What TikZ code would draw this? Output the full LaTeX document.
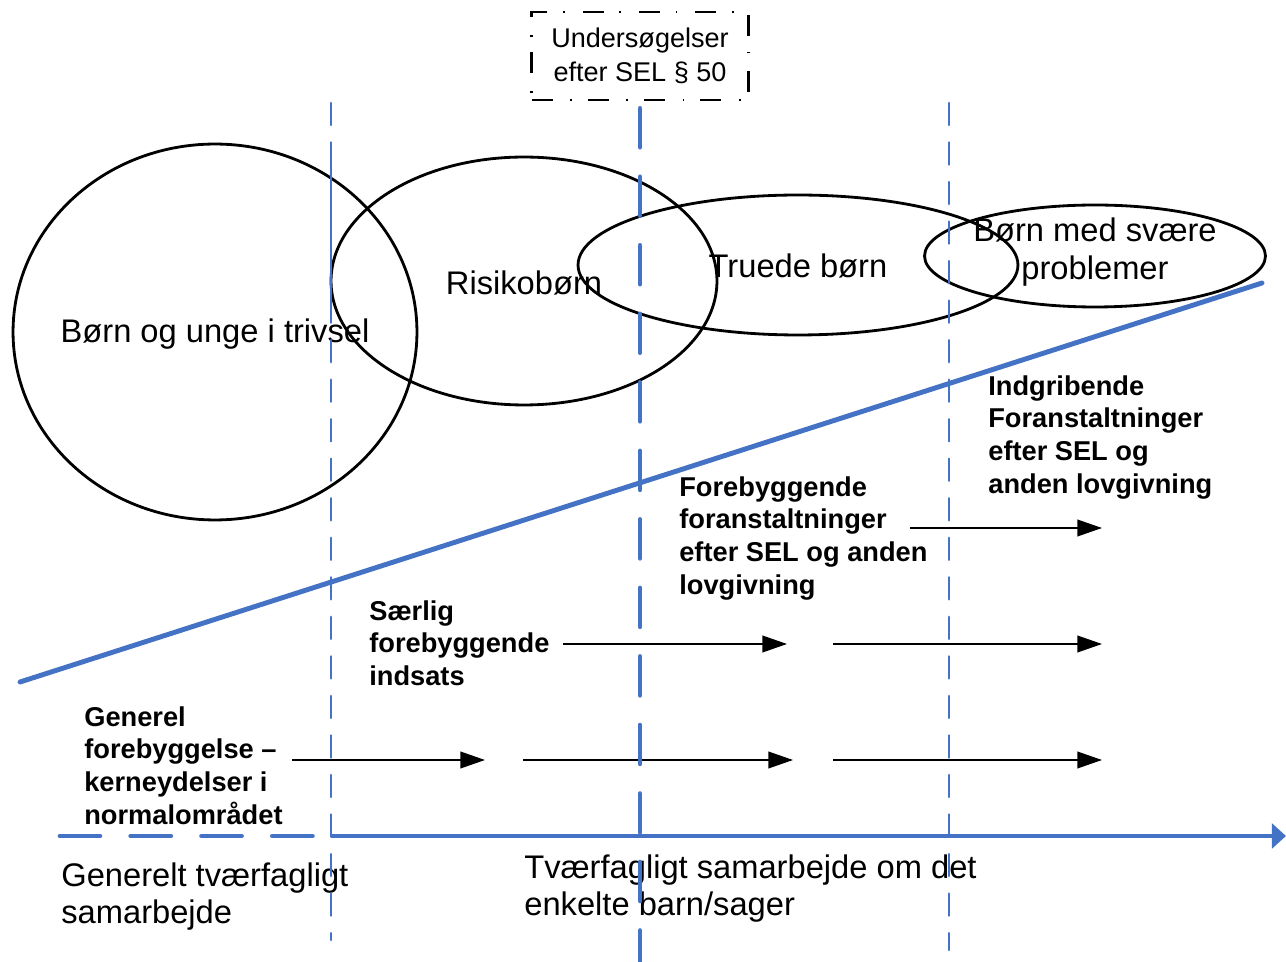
\documentclass[tikz,border=0pt]{standalone}
\usepackage{fontspec}
\setmainfont{Liberation Sans}
\usepackage{xcolor}
\usetikzlibrary{shapes.geometric,arrows.meta}
\definecolor{lineblue}{RGB}{68,114,196}
\tikzset{
  group/.style={draw=black, line width=1.6pt, ellipse, inner sep=0pt},
  grouptext/.style={inner sep=0pt, align=center, font=\fontsize{18.6}{21.5}\selectfont},
  level/.style={anchor=north west, inner sep=0pt, align=left, font=\fontsize{15.5}{18.7}\selectfont\bfseries},
  plain/.style={anchor=north west, inner sep=0pt, align=left, font=\fontsize{18.6}{21.5}\selectfont},
  flow/.style={-{Triangle[length=14pt,width=9.5pt]}, line width=0.85pt},
  border/.style={draw=lineblue, line width=1.5pt, line cap=round, dash pattern=on 12.5pt off 10pt},
}
\begin{document}
\begin{tikzpicture}[x=0.02cm, y=-0.02cm]
  \useasboundingbox (0,0) rectangle (1286,962);

  % Target groups
  \node[group, minimum width=8.08cm, minimum height=7.52cm] (trivsel) at (215,332) {};
  \node[group, minimum width=7.72cm, minimum height=4.96cm] (risiko) at (524,281) {};
  \node[group, minimum width=8.8cm, minimum height=2.8cm] (truede) at (798,265) {};
  \node[group, minimum width=6.82cm, minimum height=2.04cm] (svaere) at (1095,256) {};
  \node[grouptext] (trivseltxt) at (215,334) {Børn og unge i trivsel};
  \node[grouptext] (risikotxt) at (524,283) {Risikobørn};
  \node[grouptext] (truedetxt) at (798,266) {Truede børn};
  \node[grouptext] (svaeretxt) at (1095,252) {Børn med svære\\problemer};

  % Investigation box
  \node[draw=black, line width=1.6pt, dash pattern=on 12pt off 10pt on 1pt off 9pt,
        minimum width=4.34cm, minimum height=1.76cm, inner sep=0pt, align=center,
        font=\fontsize{15.4}{19}\selectfont] (sel) at (640,56) {Undersøgelser\\efter SEL § 50};

  % Efforts
  \node[level] (generel) at (84,706) {Generel\\forebyggelse –\\kerneydelser i\\normalområdet};
  \node[level] (saerlig) at (369,600) {Særlig\\forebyggende\\indsats};
  \node[level] (forebyg) at (679,476) {Forebyggende\\foranstaltninger\\efter SEL og anden\\lovgivning};
  \node[level] (indgrib) at (988,375) {Indgribende\\Foranstaltninger\\efter SEL og\\anden lovgivning};

  % Collaboration
  \node[plain] (tvaergen) at (61,862) {Generelt tværfagligt\\samarbejde};
  \node[plain] (tvaerbarn) at (524,854) {Tværfagligt samarbejde om det\\enkelte barn/sager};

  % Effort arrows
  \coordinate (a1) at (292,760); \coordinate (b1) at (485,760);
  \coordinate (a2) at (523,760); \coordinate (b2) at (793,760);
  \coordinate (a3) at (833,760); \coordinate (b3) at (1102,760);
  \coordinate (a4) at (563,644); \coordinate (b4) at (787,644);
  \coordinate (a5) at (833,644); \coordinate (b5) at (1102,644);
  \coordinate (a6) at (910,528); \coordinate (b6) at (1102,528);
  \foreach \i in {1,...,6}
    \draw[flow] (a\i) -- (b\i);

  % Rising line
  \coordinate (rise0) at (20,682);
  \coordinate (rise1) at (1262,283);
  \draw[lineblue, line width=2.8pt, line cap=round] (rise0) -- (rise1);

  % Bottom axis
  \coordinate (ax0) at (60,836);
  \coordinate (ax1) at (313,836);
  \coordinate (axmid) at (331,836);
  \coordinate (axend) at (1286,836);
  \draw[lineblue, line width=2.8pt, line cap=round, dash pattern=on 22.7pt off 17.6pt] (ax0) -- (ax1);
  \draw[lineblue, line width=2.8pt, -{Triangle[length=8pt,width=14pt]}] (axmid) -- (axend);

  % Phase borders
  \coordinate (l1top) at (331,103); \coordinate (l1bot) at (331,940);
  \coordinate (l1a) at (331,143); \coordinate (l1b) at (331,310);
  \coordinate (l3top) at (949,103); \coordinate (l3bot) at (949,950);
  \coordinate (midbot) at (640,962);
  \draw[border] (l1top) -- (l1bot);
  \draw[lineblue, line width=1.5pt, line cap=round] (l1a) -- (l1b);
  \draw[border] (l3top) -- (l3bot);
  \draw[lineblue, line width=2.8pt, line cap=round, dash pattern=on 22pt off 17pt,
        shorten <=4pt] (sel.south) -- (midbot);
\end{tikzpicture}
\end{document}
